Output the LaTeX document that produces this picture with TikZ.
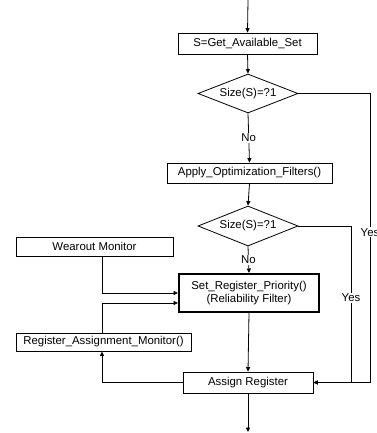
\documentclass[tikz,border=0pt]{standalone}
\usepackage{fontspec}
\setmainfont{Liberation Sans}
\usetikzlibrary{shapes.geometric,arrows.meta,calc}
\begin{document}
\begin{tikzpicture}[x=1pt,y=-1pt,
  font=\fontsize{11.4}{13}\selectfont,
  line width=0.8pt,
  >={Triangle[length=4.5pt,width=4pt]},
  box/.style={draw,rectangle,inner sep=0pt,align=center},
  decision/.style={draw,diamond,inner sep=0pt,shape aspect=2.5,
    minimum width=100pt,minimum height=39pt},
  lbl/.style={fill=white,inner sep=1pt}]
\useasboundingbox (0,0) rectangle (376,433);

\coordinate (top) at (248,0);
\coordinate (bottom) at (248,432);
\coordinate (vx) at (102,0);

\node[box,minimum width=139pt,minimum height=21pt] (getset) at (247.5,43.5) {S=Get\_Available\_Set};
\node[decision] (size1) at (248,93.5) {Size(S)=?1};
\node[box,minimum width=165pt,minimum height=20pt] (filters) at (249.5,173) {Apply\_Optimization\_Filters()};
\node[decision,minimum height=40pt] (size2) at (248,226) {Size(S)=?1};
\node[box,minimum width=157pt,minimum height=19pt] (wearout) at (94.5,246.5) {Wearout Monitor};
\node[box,line width=2pt,minimum width=140pt,minimum height=38pt] (priority) at (249,293)
  {Set\_Register\_Priority()\\(Reliability Filter)};
\node[box,minimum width=175pt,minimum height=18pt] (regmon) at (103.5,342) {Register\_Assignment\_Monitor()};
\node[box,minimum width=130pt,minimum height=21pt] (assign) at (248,382.5) {Assign Register};

% main flow
\draw[->] (top) -- (getset.north);
\draw[->] (getset.south) -- (size1.north);
\draw[->] (size1.south) -- node[lbl] {No} (filters.north);
\draw[->] (filters.south) -- (size2.north);
\draw[->] (size2.south) -- node[lbl] {No} (priority.north);
\draw[->] (priority.south) -- (assign.north);
\draw[->] (assign.south) -- (bottom);

% "Yes" branches into Assign Register
\draw[->] (size1.east) -- (370,93.5) -- node[lbl,pos=0.48] {Yes} (370,382.5) -- (assign.east);
\draw[->] (size2.east) -- (351,226) -- node[lbl,pos=0.46] {Yes} (351,382.5) -- (assign.east);

% monitors feeding the priority step
\draw[->] (wearout.south -| vx) |- (priority.west);
\draw[->] (regmon.north -| vx) |- ([yshift=-10pt]priority.west);
\draw[->] (assign.west) -| (regmon.south -| vx);
\end{tikzpicture}
\end{document}
